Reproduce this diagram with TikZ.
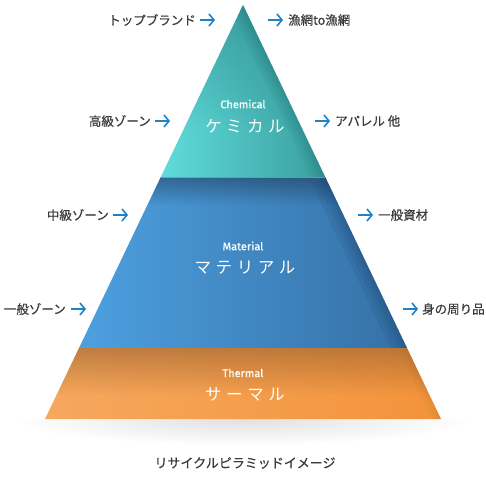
\documentclass[tikz,border=0pt]{standalone}
\usepackage{fontspec}
\setmainfont[FakeBold=0.5]{Noto Sans CJK JP}
\newfontfamily\kanafont[LetterSpace=28]{Noto Sans CJK JP}
\newfontfamily\enfont[FakeBold=0.5]{Fira Sans}
\usetikzlibrary{fadings,arrows.meta}
\definecolor{chemL}{HTML}{60DCDC}
\definecolor{chemR}{HTML}{3A9E9E}
\definecolor{chemD}{HTML}{23787A}
\definecolor{matL}{HTML}{4DA0E0}
\definecolor{matR}{HTML}{3570A6}
\definecolor{matD}{HTML}{1A4470}
\definecolor{thL}{HTML}{F6A85E}
\definecolor{thR}{HTML}{F3933A}
\definecolor{thD}{HTML}{9A6230}
\definecolor{labc}{HTML}{3A3A3A}
\definecolor{arrc}{HTML}{1F82C4}
\tikzfading[name=fadetop, top color=transparent!0, bottom color=transparent!100]
\tikzfading[name=softshadow, inner color=transparent!0, outer color=transparent!100]
\tikzset{
  lab/.style={font=\fontsize{12.5}{14}\selectfont, text=labc, inner sep=0pt},
  arr/.style={draw=arrc, line width=1.6pt, -{Straight Barb[length=5pt,width=12pt]}},
  entxt/.style={font=\enfont\fontsize{11}{12}\selectfont, text=white, inner sep=0pt},
  kntxt/.style={font=\kanafont\fontsize{16.5}{18}\selectfont, text=white, inner sep=0pt},
}
\begin{document}
\begin{tikzpicture}[x=1pt,y=-1pt]
\useasboundingbox[fill=white] (0,0) rectangle (486,476);
\coordinate (apex) at (243,5);
\coordinate (cl) at (160.8,177);
\coordinate (cr) at (325.2,177);
\coordinate (ml) at (79,348);
\coordinate (mr) at (407,348);
\coordinate (bl) at (45,419);
\coordinate (br) at (441,419);
% shadow
\begin{scope}
\clip (20,419) rectangle (466,450);
\fill[black, opacity=0.12, path fading=softshadow] (243,419) ellipse (230 and 26);
\end{scope}
% chemical
\begin{scope}
\clip (apex) -- (cr) -- (cl) -- cycle;
\shade[left color=chemL, right color=chemR] (160,5) rectangle (326,177);
\fill[chemD, opacity=0.45, path fading=fadetop] (160,5) rectangle (326,130);
\foreach \w in {26,18,11,5} {\draw[chemD, line width=\w pt, opacity=0.12] (apex) -- (cr);}
\end{scope}
% material
\begin{scope}
\clip (cl) -- (cr) -- (mr) -- (ml) -- cycle;
\shade[left color=matL, right color=matR] (79,177) rectangle (407,348);
\fill[black, opacity=0.3, path fading=fadetop] (79,177) rectangle (407,205);
\foreach \w in {30,20,12,5} {\draw[matD, line width=\w pt, opacity=0.12] (cr) -- (mr);}
\end{scope}
% thermal
\begin{scope}
\clip (ml) -- (mr) -- (br) -- (bl) -- cycle;
\shade[left color=thL, right color=thR] (45,348) rectangle (441,419);
\fill[thD, opacity=0.6, path fading=fadetop] (45,348) rectangle (441,395);
\foreach \w in {16,8} {\draw[thD, line width=\w pt, opacity=0.08] (mr) -- (br);}
\end{scope}
\draw[white, opacity=0.35, line width=0.7pt] (cl) -- (cr);
% layer texts
\node[entxt] (chemen) at (243,104) {Chemical};
\node[kntxt] (chemjp) at (245,126) {ケミカル};
\node[entxt] (maten) at (243,246) {Material};
\node[kntxt] (matjp) at (245,268) {マテリアル};
\node[entxt] (then) at (243,373) {Thermal};
\node[kntxt] (thjp) at (245,394) {サーマル};
% left labels
\node[lab, anchor=east] (l1) at (196,20) {トップブランド};
\draw[arr] ([xshift=4pt]l1.east) -- ++(15,0);
\node[lab, anchor=east] (l2) at (151,121) {高級ゾーン};
\draw[arr] ([xshift=4pt]l2.east) -- ++(15,0);
\node[lab, anchor=east] (l3) at (109,215) {中級ゾーン};
\draw[arr] ([xshift=4pt]l3.east) -- ++(15,0);
\node[lab, anchor=east] (l4) at (66,309) {一般ゾーン};
\draw[arr] ([xshift=5pt]l4.east) -- ++(15,0);
% right labels
\node[lab, anchor=west] (r1) at (288,20) {漁網to漁網};
\draw[arr] ([xshift=-20pt]r1.west) -- ++(15,0);
\node[lab, anchor=west] (r2) at (335,121) {アパレル 他};
\draw[arr] ([xshift=-20pt]r2.west) -- ++(15,0);
\node[lab, anchor=west] (r3) at (378,215) {一般資材};
\draw[arr] ([xshift=-20pt]r3.west) -- ++(15,0);
\node[lab, anchor=west] (r4) at (422,309) {身の周り品};
\draw[arr] ([xshift=-19pt]r4.west) -- ++(15,0);
% caption
\node[font=\fontsize{13}{15}\selectfont, text=labc, inner sep=0pt] (cap) at (245,463) {リサイクルピラミッドイメージ};
\end{tikzpicture}
\end{document}
